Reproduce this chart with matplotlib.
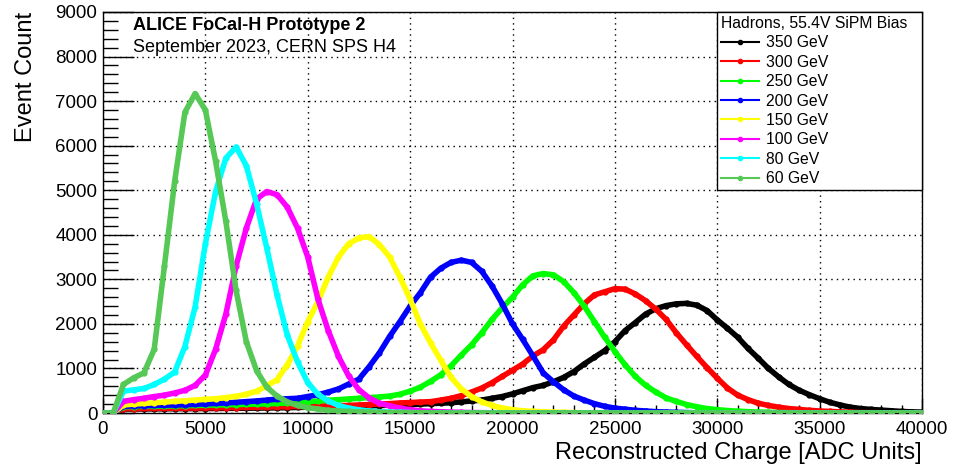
import numpy as np
import matplotlib
matplotlib.use("Agg")
import matplotlib.pyplot as plt
from matplotlib.lines import Line2D
from matplotlib.ticker import MultipleLocator

plt.rcParams['font.family'] = ['Liberation Sans', 'DejaVu Sans']

# bin positions (ADC units), one reading every 500
charge = np.arange(0, 40001, 500)

e350 = [0, 0, 90, 90, 92, 93, 95, 96, 98, 99,
        100, 102, 104, 106, 108, 111, 114, 117, 120, 125,
        130, 135, 140, 145, 150, 155, 160, 168, 175, 182,
        190, 200, 210, 220, 230, 250, 270, 290, 330, 370,
        430, 500, 570, 620, 700, 800, 930, 1100, 1250, 1400,
        1600, 1850, 2030, 2220, 2340, 2410, 2450, 2460, 2420, 2300,
        2090, 1900, 1700, 1450, 1230, 1000, 810, 640, 510, 410,
        320, 240, 180, 130, 100, 80, 65, 50, 35, 25,
        20]
e300 = [0, 0, 100, 100, 102, 104, 106, 108, 110, 112,
        115, 118, 120, 123, 126, 130, 134, 138, 142, 146,
        150, 155, 160, 165, 170, 180, 190, 200, 210, 225,
        235, 245, 255, 290, 330, 390, 470, 560, 680, 820,
        960, 1100, 1280, 1420, 1640, 1950, 2200, 2450, 2650, 2720,
        2790, 2780, 2670, 2520, 2330, 2100, 1800, 1530, 1270, 1020,
        780, 560, 400, 300, 220, 170, 130, 100, 80, 60,
        45, 35, 25, 18, 10, 7, 5, 3, 0, 0,
        0]
e250 = [0, 0, 140, 145, 150, 150, 155, 160, 165, 170,
        175, 180, 185, 190, 195, 200, 205, 215, 225, 240,
        255, 270, 285, 300, 315, 330, 345, 360, 380, 420,
        490, 580, 710, 860, 1060, 1300, 1530, 1800, 2100, 2360,
        2600, 2880, 3080, 3130, 3100, 2950, 2700, 2400, 2050, 1700,
        1380, 1080, 820, 620, 470, 340, 260, 190, 140, 100,
        75, 55, 40, 30, 20, 15, 10, 7, 5, 3,
        0, 0, 0, 0, 0, 0, 0, 0, 0, 0,
        0]
e200 = [0, 0, 150, 160, 165, 170, 175, 180, 185, 195,
        205, 215, 225, 240, 255, 270, 290, 310, 320, 330,
        370, 410, 470, 540, 650, 760, 1040, 1350, 1720, 2050,
        2400, 2700, 3050, 3250, 3380, 3430, 3380, 3180, 2850, 2450,
        2000, 1650, 1280, 900, 700, 520, 380, 290, 210, 150,
        110, 85, 60, 45, 30, 22, 15, 10, 5, 3,
        0, 0, 0, 0, 0, 0, 0, 0, 0, 0,
        0, 0, 0, 0, 0, 0, 0, 0, 0, 0,
        0]
e150 = [0, 0, 180, 200, 215, 230, 245, 260, 275, 290,
        305, 320, 345, 375, 420, 490, 610, 750, 1080, 1500,
        2050, 2500, 3050, 3500, 3800, 3930, 3960, 3780, 3500, 3050,
        2550, 2000, 1570, 1180, 800, 540, 370, 250, 170, 110,
        75, 50, 35, 28, 20, 15, 10, 7, 5, 3,
        0, 0, 0, 0, 0, 0, 0, 0, 0, 0,
        0, 0, 0, 0, 0, 0, 0, 0, 0, 0,
        0, 0, 0, 0, 0, 0, 0, 0, 0, 0,
        0]
e100 = [0, 0, 260, 300, 330, 370, 400, 450, 510, 620,
        850, 1430, 2220, 3300, 4150, 4800, 4970, 4900, 4620, 4150,
        3500, 2550, 1850, 1270, 830, 520, 340, 220, 160, 110,
        75, 50, 35, 28, 20, 15, 10, 7, 5, 3,
        0, 0, 0, 0, 0, 0, 0, 0, 0, 0,
        0, 0, 0, 0, 0, 0, 0, 0, 0, 0,
        0, 0, 0, 0, 0, 0, 0, 0, 0, 0,
        0, 0, 0, 0, 0, 0, 0, 0, 0, 0,
        0]
e80 = [0, 0, 490, 520, 550, 640, 760, 920, 1490, 2380,
       3800, 4970, 5720, 5970, 5550, 4700, 3700, 2650, 1750, 1150,
       680, 420, 270, 170, 110, 70, 45, 30, 20, 15,
       10, 7, 5, 3, 0, 0, 0, 0, 0, 0,
       0, 0, 0, 0, 0, 0, 0, 0, 0, 0,
       0, 0, 0, 0, 0, 0, 0, 0, 0, 0,
       0, 0, 0, 0, 0, 0, 0, 0, 0, 0,
       0, 0, 0, 0, 0, 0, 0, 0, 0, 0,
       0]
e60 = [0, 0, 640, 790, 900, 1430, 3300, 5200, 6750, 7170,
       6800, 5650, 4300, 2750, 1600, 950, 580, 380, 250, 170,
       120, 90, 60, 45, 35, 25, 20, 15, 10, 8,
       5, 4, 3, 0, 0, 0, 0, 0, 0, 0,
       0, 0, 0, 0, 0, 0, 0, 0, 0, 0,
       0, 0, 0, 0, 0, 0, 0, 0, 0, 0,
       0, 0, 0, 0, 0, 0, 0, 0, 0, 0,
       0, 0, 0, 0, 0, 0, 0, 0, 0, 0,
       0]

labels = ["350 GeV", "300 GeV", "250 GeV", "200 GeV",
          "150 GeV", "100 GeV", "80 GeV", "60 GeV"]
series = [e350, e300, e250, e200, e150, e100, e80, e60]
colors = ["#000000", "#ff0000", "#00ff00", "#0000ff",
          "#ffff00", "#ff00ff", "#00ffff", "#55c855"]

fig = plt.figure(figsize=(9.58, 4.71), dpi=100)
ax = fig.add_axes([103 / 958, 58 / 471, 819 / 958, 401 / 471])

for vals, col in zip(series, colors):
    ax.plot(charge, vals, color=col, lw=4, marker='o', ms=3.5,
            solid_joinstyle='round', zorder=3)

ax.set_xlim(0, 40000)
ax.set_ylim(0, 9000)
ax.xaxis.set_major_locator(MultipleLocator(5000))
ax.xaxis.set_minor_locator(MultipleLocator(1000))
ax.yaxis.set_major_locator(MultipleLocator(1000))
ax.yaxis.set_minor_locator(MultipleLocator(200))
ax.tick_params(axis='x', which='major', direction='in', length=11, width=1,
               labelsize=13.5, pad=6)
ax.tick_params(axis='x', which='minor', direction='in', length=6, width=1)
ax.tick_params(axis='y', which='major', direction='in', length=22, width=1,
               labelsize=13.5, pad=4)
ax.tick_params(axis='y', which='minor', direction='in', length=11, width=1)
ax.grid(True, which='major', color='black', ls=(0, (1, 3)), lw=1)
ax.set_axisbelow(True)
for sp in ax.spines.values():
    sp.set_linewidth(1)

ax.set_xlabel("Reconstructed Charge [ADC Units]", fontsize=17, loc='right',
              labelpad=3)
ax.set_ylabel("Event Count", fontsize=17, loc='top', labelpad=13)

ax.text(30 / 819, 1 - 14 / 401, "ALICE FoCal-H Prototype 2", transform=ax.transAxes,
        fontsize=13, fontweight='bold', va='center', ha='left')
ax.text(30 / 819, 1 - 36 / 401, "September 2023, CERN SPS H4", transform=ax.transAxes,
        fontsize=13, va='center', ha='left')

handles = [Line2D([0], [0], color=c, lw=1.5, marker='o', ms=3) for c in colors]
leg = ax.legend(handles, labels, title="Hadrons, 55.4V SiPM Bias",
                loc='upper left', bbox_to_anchor=(614 / 819, 0, 205 / 819, 1.0),
                mode='expand', fontsize=11.3,
                title_fontsize=11.3, fancybox=False, framealpha=1,
                edgecolor='black', borderaxespad=0, handlelength=2.4,
                handletextpad=0.45, labelspacing=0.28, borderpad=0.25)
leg.get_frame().set_linewidth(1)
leg._legend_box.align = "left"
leg.set_zorder(5)

fig.savefig("out.png", dpi=100)
